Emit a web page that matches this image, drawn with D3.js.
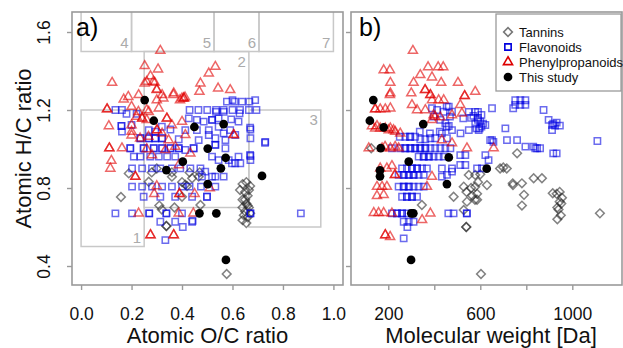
<!DOCTYPE html>
<html>
<head>
<meta charset="utf-8">
<script src="https://cdn.jsdelivr.net/npm/d3@7"></script>
<style>
  body { margin: 0; background: #fff; }
  svg { display: block; font-family: "Liberation Sans", Arial, sans-serif; }
</style>
</head>
<body>
<div id="chart"></div>
<script>
// ---- data: panel a = [O/C, H/C], panel b = [MW, H/C] ----
const tanninA = [
  [0.158,0.754],[0.189,0.875],[0.30,0.90],[0.268,0.832],[0.338,0.605],[0.338,0.605],[0.31,0.71],[0.32,0.69],
  [0.40,0.83],[0.42,0.81],[0.44,0.85],[0.473,0.713],[0.466,0.858],[0.28,0.88],[0.36,0.88],[0.43,0.88],
  [0.47,0.88],[0.577,0.359],[0.36,0.858],[0.413,0.817],[0.40,0.755],[0.37,0.70],
  [0.64,0.82],[0.655,0.83],[0.67,0.81],[0.63,0.79],[0.65,0.78],[0.66,0.76],[0.64,0.74],[0.655,0.72],
  [0.665,0.70],[0.64,0.70],[0.65,0.68],[0.67,0.67],[0.645,0.66],[0.66,0.65],[0.64,0.635],[0.655,0.62],
  [0.66,0.71],[0.65,0.74],[0.665,0.79]
];
const flavA = [
  [0.578,1.243],[0.609,1.243],[0.638,1.243],[0.667,1.243],[0.60,1.251],[0.69,1.251],
  [0.136,1.2],[0.162,1.2],[0.43,1.2],[0.465,1.2],[0.50,1.2],[0.535,1.2],[0.535,1.19],[0.565,1.2],[0.565,1.19],
  [0.60,1.2],[0.63,1.2],[0.665,1.2],[0.695,1.2],
  [0.18,1.18],[0.22,1.18],[0.16,1.118],[0.16,1.118],[0.2,1.123],[0.162,1.089],
  [0.32,1.114],[0.354,1.10],[0.387,1.05],[0.413,1.097],[0.268,1.097],[0.294,1.089],
  [0.427,1.157],[0.459,1.149],[0.486,1.140],[0.519,1.149],[0.519,1.149],[0.545,1.157],[0.595,1.152],
  [0.628,1.183],[0.624,1.14],[0.671,1.10],[0.671,1.055],[0.73,1.037],[0.671,0.964],[0.671,0.943],
  [0.631,0.927],[0.598,0.927],[0.459,1.097],[0.545,1.114],[0.565,1.08],[0.591,1.097],[0.611,1.072],
  [0.532,1.055],[0.532,1.021],[0.532,1.021],[0.572,1.046],[0.572,1.004],[0.506,1.097],[0.506,1.072],[0.466,1.046],
  [0.446,1.004],[0.446,1.004],[0.413,0.995],[0.387,1.004],[0.387,1.004],[0.354,1.004],[0.354,1.004],
  [0.321,1.004],[0.321,1.004],[0.288,1.004],[0.288,1.004],[0.248,1.004],[0.248,1.004],[0.195,1.004],[0.195,1.004],
  [0.235,1.055],[0.235,1.055],[0.268,1.055],[0.268,1.055],[0.294,1.055],[0.294,1.055],[0.321,1.055],[0.321,1.055],
  [0.209,0.961],[0.235,0.961],[0.274,0.961],[0.308,0.961],[0.341,0.961],[0.373,0.961],
  [0.519,0.961],[0.545,0.943],[0.585,0.943],[0.611,0.927],[0.624,0.961],
  [0.202,0.901],[0.242,0.901],[0.281,0.901],[0.314,0.901],[0.36,0.901],[0.393,0.901],[0.433,0.901],[0.473,0.901],
  [0.492,0.884],[0.479,0.858],[0.519,0.858],[0.565,0.858],[0.532,0.858],
  [0.202,0.807],[0.242,0.807],[0.281,0.807],[0.321,0.807],[0.36,0.807],[0.4,0.807],[0.43,0.807],[0.475,0.807],[0.532,0.807],
  [0.248,0.755],[0.314,0.755],[0.373,0.755],[0.44,0.755],[0.499,0.755],[0.499,0.755],
  [0.136,0.67],[0.202,0.67],[0.27,0.67],[0.27,0.67],[0.338,0.67],[0.338,0.67],[0.4,0.67],[0.671,0.67],[0.671,0.67],[0.871,0.67],
  [0.314,0.627],[0.373,0.627],[0.44,0.627],[0.334,0.533],[0.403,0.60],[0.442,0.632],
  [0.729,1.032],[0.67,1.11],[0.67,0.97]
];
const phenylA = [
  [0.314,1.504],[0.252,1.426],[0.305,1.409],[0.123,1.34],[0.275,1.374],[0.252,1.337],[0.292,1.34],[0.30,1.306],
  [0.169,1.255],[0.228,1.277],[0.321,1.277],[0.367,1.286],[0.40,1.26],[0.473,1.337],[0.506,1.388],[0.532,1.422],
  [0.543,1.311],[0.591,1.303],[0.469,1.294],[0.412,1.265],[0.187,1.268],[0.26,1.345],[0.286,1.345],[0.30,1.303],
  [0.30,1.251],[0.326,1.26],[0.366,1.277],[0.392,1.251],
  [0.103,1.204],[0.103,1.204],[0.11,1.118],[0.112,1.004],[0.112,1.004],[0.12,0.94],[0.116,0.90],[0.162,1.004],
  [0.20,1.123],[0.20,1.07],[0.242,1.157],[0.242,1.157],[0.268,1.191],[0.308,1.209],[0.34,1.157],[0.34,1.157],
  [0.36,1.123],[0.407,1.26],[0.407,1.26],[0.301,1.097],[0.301,1.097],[0.40,1.14],[0.347,1.046],[0.413,1.072],
  [0.605,1.072],[0.605,1.072],[0.2,1.217],[0.227,1.191],[0.26,1.2],[0.22,1.166],[0.26,1.149],[0.2,1.089],
  [0.234,1.055],[0.267,1.063],[0.26,1.0],
  [0.281,0.969],[0.387,0.918],[0.433,0.978],[0.321,1.08],[0.334,0.995],[0.373,1.012],
  [0.215,0.858],[0.215,0.858],[0.228,0.67],[0.275,0.559],[0.275,0.559],[0.367,0.559],[0.367,0.559],
  [0.387,0.67],[0.445,0.67],[0.29,0.77],[0.30,0.81],[0.39,0.77],[0.39,0.77],[0.45,0.77],[0.51,0.80]
];
const studyA = [
  [0.252,1.251],[0.288,1.145],[0.449,1.113],[0.565,1.128],[0.502,1.002],[0.573,0.955],[0.403,0.935],
  [0.554,0.901],[0.338,0.892],[0.717,0.862],[0.502,0.82],[0.469,0.67],[0.536,0.67],[0.574,0.431]
];

const tanninB = [
  [126,1.004],[760,0.978],[686,0.90],[700,0.905],[715,0.90],[550,0.867],[578,0.867],[600,0.87],[629,0.815],
  [528,0.807],[578,0.807],[741,0.824],[781,0.824],[832,0.85],[868,0.85],[586,0.77],[586,0.74],[484,0.755],
  [542,0.73],[577,0.74],[790,0.765],[781,0.71],[528,0.687],[346,0.713],[539,0.60],[539,0.60],[603,0.359],
  [1120,0.67],[932,0.77],[945,0.78],[952,0.72],[940,0.69],[935,0.64],[950,0.66],[955,0.75],[915,0.773],
  [935,0.70],[945,0.73],[742,0.815],[540,0.78],[560,0.80],[565,0.76],[590,0.83]
];
const flavB = [
  [752,1.25],[774,1.25],[796,1.25],[752,1.226],[774,1.226],[796,1.226],[743,1.209],[875,1.2],[651,1.209],
  [897,1.149],[912,1.123],[912,1.097],[709,1.106],[643,1.046],[716,1.046],[760,1.046],[796,1.012],[839,1.004],[847,1.004],
  [1109,1.041],[917,1.13],[932,1.135],[946,1.12],[925,1.12],[917,0.978],[932,0.978],[830,1.012],[860,1.004],[657,1.037],
  [550,1.19],[578,1.19],[590,1.19],[605,1.175],[590,1.149],[578,1.13],[605,1.115],[612,1.13],[597,1.106],[583,1.106],
  [560,1.16],[570,1.17],[590,1.16],[600,1.14],
  [463,1.217],[441,1.191],[477,1.191],[390,1.209],[412,1.2],[397,1.166],[426,1.149],[448,1.132],[463,1.118],
  [454,1.217],[468,1.166],[454,1.114],[526,1.157],[337,1.089],[381,1.08],[424,1.089],[250,1.063],[294,1.063],
  [274,1.063],[296,1.063],[317,1.063],[339,1.05],[361,1.05],[383,1.055],[404,1.055],[433,1.08],[455,1.055],
  [477,1.097],[514,1.08],[550,1.097],[593,1.097],[622,1.123],[651,1.046],
  [216,1.004],[252,1.004],[274,1.004],[274,1.004],[296,1.004],[296,1.004],[317,1.004],[317,1.004],[339,1.004],
  [339,1.004],[361,1.004],[361,1.004],[383,1.004],[404,1.004],[426,1.004],[448,1.004],[470,1.004],
  [513,0.969],[535,0.969],[513,0.918],[535,0.918],[622,0.969],[636,0.943],[607,0.901],[586,0.901],
  [332,0.961],[354,0.961],[354,0.961],[376,0.961],[376,0.961],[397,0.961],[419,0.961],[441,0.961],
  [260,0.9],[281,0.9],[303,0.9],[303,0.9],[325,0.9],[325,0.9],[347,0.9],[368,0.9],[433,0.9],[477,0.9],
  [245,0.867],[267,0.867],[267,0.867],[289,0.867],[289,0.867],[310,0.867],[310,0.867],[332,0.867],[354,0.867],
  [433,0.858],[455,0.867],[477,0.884],
  [245,0.807],[267,0.807],[267,0.807],[289,0.807],[289,0.807],[310,0.807],[332,0.807],[354,0.807],
  [260,0.755],[281,0.755],[281,0.755],[303,0.755],[303,0.755],[325,0.755],
  [216,0.67],[238,0.67],[238,0.67],[260,0.67],[260,0.67],[281,0.67],[303,0.67],[484,0.67],[542,0.67],[461,0.67],[541,0.67],
  [267,0.627],[289,0.627],[310,0.627],[267,0.542],[283,0.60]
];
const phenylB = [
  [307,1.504],[180,1.405],[207,1.405],[373,1.42],[439,1.42],[417,1.42],[339,1.38],[390,1.368],[209,1.34],[310,1.34],
  [430,1.34],[503,1.34],[209,1.286],[300,1.286],[207,1.277],[360,1.303],[360,1.303],[383,1.277],[383,1.277],
  [578,1.294],[532,1.272],[532,1.272],[303,1.226],[390,1.251],[419,1.251],[441,1.251],[513,1.226],
  [143,1.204],[143,1.204],[165,1.204],[187,1.204],[209,1.209],[325,1.2],[361,1.2],[397,1.174],[477,1.174],[520,1.183],
  [129,1.118],[151,1.118],[202,1.097],[223,1.097],[252,1.08],[390,1.149],[404,1.166],[426,1.163],
  [143,1.106],[165,1.106],[187,1.106],[209,1.106],[230,1.089],
  [115,1.004],[173,1.004],[209,1.004],[245,1.004],[186,1.012],[230,1.012],[477,1.03],[542,1.004],[658,1.004],[433,1.046],
  [165,0.901],[194,0.901],[216,0.913],[229,0.867],[229,0.867],[390,0.858],
  [151,0.807],[173,0.807],[194,0.807],[368,0.807],[151,0.76],[180,0.765],
  [137,0.673],[158,0.673],[180,0.673],[347,0.636],[383,0.67],[216,0.67],
  [187,0.559],[187,0.559],[208,0.55]
];
const studyB = [
  [135,1.251],[120,1.145],[180,1.111],[352,1.128],[167,1.004],[463,0.957],[289,0.935],
  [628,0.899],[164,0.89],[164,0.86],[455,0.82],[300,0.67],[309,0.67],[299,0.431]
];

// van Krevelen regions (O/C range, H/C range)
const regionNames = ['1', '2', '3', '4', '5', '6', '7'];
const regionOC = [[0, 0.25], [0.25, 0.665], [0.665, 0.95], [0, 0.2], [0.2, 0.527], [0.527, 0.705], [0.705, 1.0]];
const regionHC = [[0.5, 1.2], [0.7, 1.5], [0.6, 1.2], [1.5, 2.0], [1.5, 2.0], [1.5, 2.0], [1.5, 2.0]];
const regionLabelAt = ['bottom', 'top', 'top', 'bottom', 'bottom', 'bottom', 'bottom'];

const yTicks = [0.4, 0.8, 1.2, 1.6];
const ocTicks = [0, 0.2, 0.4, 0.6, 0.8, 1.0];
const mwTicks = [200, 400, 600, 800, 1000];
const mwLabels = [200, 600, 1000];
const legendLabels = ['Tannins', 'Flavonoids', 'Phenylpropanoids', 'This study'];

// ---- layout ----
const width = 623, height = 348;
const plotTop = 12, plotBottom = 285;
const panelA = { left: 72, right: 343 };
const panelB = { left: 351, right: 622 };
const frameColor = '#9a9a9a';

const svg = d3.select('#chart').append('svg')
  .attr('width', width).attr('height', height);

const y = d3.scaleLinear().domain([0.3026, 1.7026]).range([plotBottom, plotTop]);
const xA = d3.scaleLinear().domain([-0.036, 1.038]).range([panelA.left, panelA.right]);
const xB = d3.scaleLinear().domain([38, 1216]).range([panelB.left, panelB.right]);

const styles = {
  tannin: { type: 'diamond', stroke: 'rgb(40,40,40)', op: 0.58 },
  flav: { type: 'square', stroke: 'rgb(0,0,225)', op: 0.58 },
  phenyl: { type: 'triangle', stroke: 'rgb(225,0,0)', op: 0.6 },
  study: { type: 'circle', fill: '#000' }
};

function symbolPath(type) {
  if (type === 'diamond') return d3.symbol(d3.symbolSquare, 38)();
  if (type === 'square') return d3.symbol(d3.symbolSquare, 40)();
  if (type === 'triangle') return d3.symbol(d3.symbolTriangle, 36)();
  return d3.symbol(d3.symbolCircle, 60)();
}

function drawPoints(g, data, x, st) {
  const sel = g.append('g').selectAll('path')
    .data(data)
    .enter()
    .append('path')
    .attr('d', symbolPath(st.type))
    .attr('transform', d => `translate(${x(d[0])},${y(d[1])})` + (st.type === 'diamond' ? ' rotate(45)' : ''));
  if (st.type === 'circle') {
    sel.attr('fill', st.fill);
  } else {
    sel.attr('fill', 'none')
      .attr('stroke', st.stroke)
      .attr('stroke-opacity', st.op)
      .attr('stroke-width', 1.5);
  }
}

function drawYAxis(left, withLabels) {
  const ax = svg.append('g')
    .attr('transform', `translate(${left},0)`)
    .call(d3.axisLeft(y).tickValues(yTicks).tickSize(5).tickFormat(withLabels ? d3.format('.1f') : ''));
  ax.select('.domain').remove();
  ax.selectAll('line').attr('stroke', frameColor).attr('stroke-width', 1.4);
  ax.selectAll('text')
    .attr('x', 0).attr('dy', 0)
    .attr('text-anchor', 'middle')
    .attr('transform', 'translate(-22,0) rotate(-90)')
    .attr('fill', '#111')
    .style('font-size', '17.5px');
}

function drawXAxis(x, ticks, fmt) {
  const ax = svg.append('g')
    .attr('transform', `translate(0,${plotBottom})`)
    .call(d3.axisBottom(x).tickValues(ticks).tickSize(5).tickPadding(18).tickFormat(fmt));
  ax.select('.domain').remove();
  ax.selectAll('line').attr('stroke', frameColor).attr('stroke-width', 1.4);
  ax.selectAll('text')
    .attr('dy', '0.71em')
    .attr('fill', '#111')
    .style('font-size', '17.5px');
}

// clip for regions
svg.append('clipPath').attr('id', 'clipA')
  .append('rect')
  .attr('x', panelA.left).attr('y', plotTop)
  .attr('width', panelA.right - panelA.left).attr('height', plotBottom - plotTop);

// ---- panel a ----
const gA = svg.append('g');
const regions = gA.append('g').attr('clip-path', 'url(#clipA)');
regionNames.forEach((name, i) => {
  const x0 = xA(regionOC[i][0]), x1 = xA(regionOC[i][1]);
  const y0 = y(regionHC[i][1]), y1 = y(regionHC[i][0]);
  regions.append('rect')
    .attr('x', x0).attr('y', y0)
    .attr('width', x1 - x0).attr('height', y1 - y0)
    .attr('fill', 'none')
    .attr('stroke', '#c8c8c8')
    .attr('stroke-width', 1.5);
  gA.append('text')
    .attr('x', x1 - 3)
    .attr('y', regionLabelAt[i] === 'top' ? y0 + 15 : y1 - 4)
    .attr('text-anchor', 'end')
    .attr('fill', '#ababab')
    .style('font-size', '15px')
    .text(name);
});

drawPoints(gA, tanninA, xA, styles.tannin);
drawPoints(gA, flavA, xA, styles.flav);
drawPoints(gA, phenylA, xA, styles.phenyl);
drawPoints(gA, studyA, xA, styles.study);

// ---- panel b ----
const gB = svg.append('g');
drawPoints(gB, tanninB, xB, styles.tannin);
drawPoints(gB, flavB, xB, styles.flav);
drawPoints(gB, phenylB, xB, styles.phenyl);
drawPoints(gB, studyB, xB, styles.study);

// frames
[panelA, panelB].forEach(p => {
  svg.append('rect')
    .attr('x', p.left).attr('y', plotTop)
    .attr('width', p.right - p.left).attr('height', plotBottom - plotTop)
    .attr('fill', 'none')
    .attr('stroke', frameColor)
    .attr('stroke-width', 1.6);
});

drawYAxis(panelA.left, true);
drawYAxis(panelB.left, false);
drawXAxis(xA, ocTicks, d3.format('.1f'));
drawXAxis(xB, mwTicks, d => mwLabels.includes(d) ? d : '');

// panel tags
svg.append('text').attr('x', 76).attr('y', 36).style('font-size', '25px').text('a)');
svg.append('text').attr('x', 359).attr('y', 36).style('font-size', '25px').text('b)');

// axis titles
svg.append('text')
  .attr('x', (panelA.left + panelA.right) / 2).attr('y', 343)
  .attr('text-anchor', 'middle').style('font-size', '22px').attr('fill', '#111')
  .text('Atomic O/C ratio');
svg.append('text')
  .attr('x', 491).attr('y', 343)
  .attr('text-anchor', 'middle').style('font-size', '22px').attr('fill', '#111')
  .text('Molecular weight [Da]');
svg.append('text')
  .attr('transform', `translate(31,${(plotTop + plotBottom) / 2}) rotate(-90)`)
  .attr('text-anchor', 'middle').style('font-size', '22px').attr('fill', '#111')
  .text('Atomic H/C ratio');

// ---- legend ----
const legend = svg.append('g');
legend.append('rect')
  .attr('x', 496).attr('y', 14).attr('width', 125).attr('height', 77)
  .attr('fill', '#fff').attr('stroke', frameColor).attr('stroke-width', 1.3);
const legendStyles = [
  { type: 'diamond', stroke: '#777' },
  { type: 'square', stroke: '#0000dd' },
  { type: 'triangle', stroke: '#dd0000' },
  { type: 'circle', fill: '#000' }
];
legendLabels.forEach((label, i) => {
  const ly = 32 + i * 15;
  const st = legendStyles[i];
  const sym = legend.append('path')
    .attr('d', symbolPath(st.type))
    .attr('transform', `translate(508,${ly})` + (st.type === 'diamond' ? ' rotate(45)' : ''));
  if (st.type === 'circle') sym.attr('fill', '#000');
  else sym.attr('fill', 'none').attr('stroke', st.stroke).attr('stroke-width', 1.6);
  legend.append('text')
    .attr('x', 519).attr('y', ly + 4.5)
    .style('font-size', '13px').attr('fill', '#111')
    .text(label);
});
</script>
</body>
</html>
